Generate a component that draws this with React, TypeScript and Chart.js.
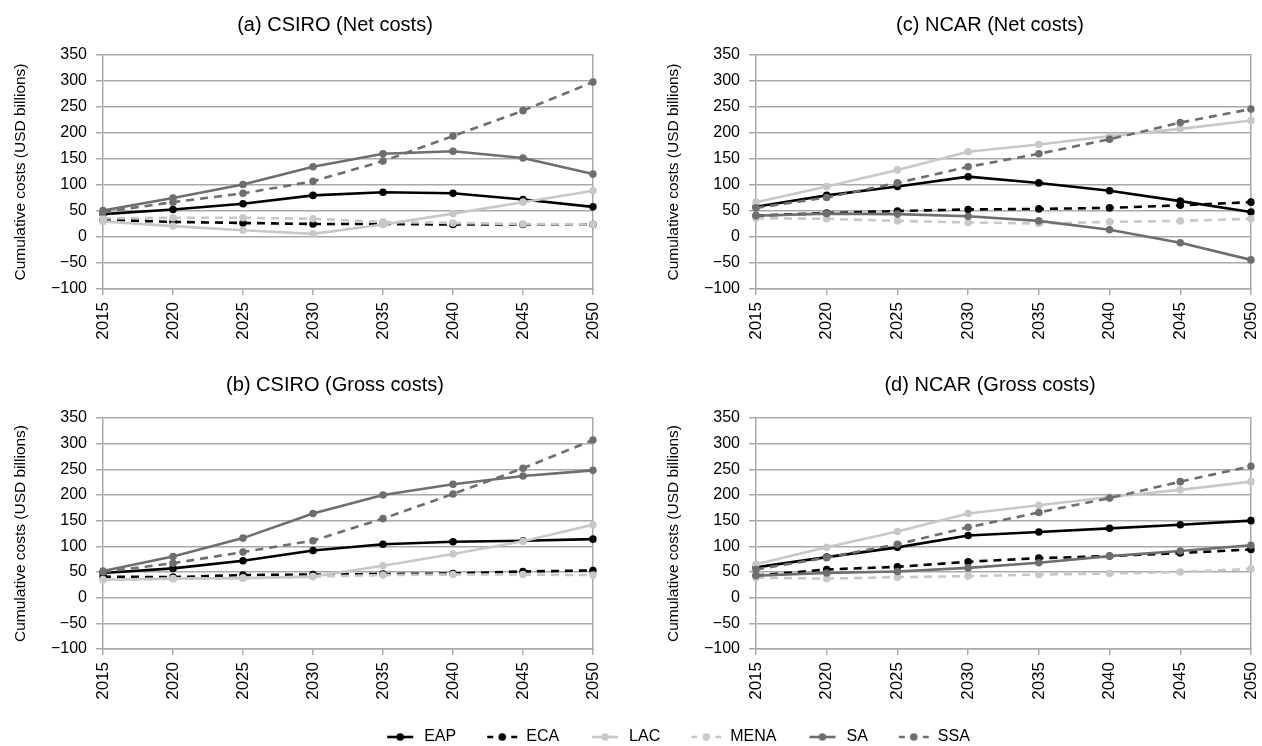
import React, { useEffect, useRef } from 'react';
import { Chart, registerables } from 'chart.js';

Chart.register(...registerables);

// ---------- data ----------
const years = ['2015', '2020', '2025', '2030', '2035', '2040', '2045', '2050'];
const seriesNames = ['EAP', 'ECA', 'LAC', 'MENA', 'SA', 'SSA'];
const yTicks = [-100, -50, 0, 50, 100, 150, 200, 250, 300, 350];

// (a) CSIRO (Net costs)
const aEAP = [44, 53, 64, 80, 86, 84, 72, 58];
const aECA = [33, 29, 27, 25, 25, 24, 24, 24];
const aLAC = [30, 21, 13, 6, 24, 45, 67, 89];
const aMENA = [36, 37, 37, 35, 29, 27, 25, 24];
const aSA = [51, 75, 101, 135, 160, 165, 152, 121];
const aSSA = [48, 67, 84, 107, 146, 194, 243, 298];

// (b) CSIRO (Gross costs)
const bEAP = [48, 57, 72, 92, 104, 109, 111, 114];
const bECA = [41, 40, 44, 45, 46, 47, 51, 53];
const bLAC = [35, 37, 38, 41, 62, 85, 110, 142];
const bMENA = [35, 37, 38, 41, 44, 45, 45, 44];
const bSA = [52, 80, 116, 164, 200, 221, 237, 248];
const bSSA = [50, 67, 89, 111, 154, 202, 252, 307];

// (c) NCAR (Net costs)
const cEAP = [58, 80, 97, 116, 104, 89, 69, 48];
const cECA = [41, 46, 50, 53, 54, 56, 61, 67];
const cLAC = [67, 97, 129, 164, 178, 194, 208, 224];
const cMENA = [36, 35, 31, 28, 26, 29, 31, 35];
const cSA = [41, 45, 44, 40, 31, 14, -11, -44];
const cSSA = [56, 76, 104, 135, 160, 188, 220, 246];

// (d) NCAR (Gross costs)
const dEAP = [59, 79, 98, 121, 128, 135, 142, 150];
const dECA = [43, 55, 60, 70, 77, 81, 87, 94];
const dLAC = [65, 98, 129, 164, 180, 196, 210, 226];
const dMENA = [39, 37, 40, 42, 45, 47, 50, 56];
const dSA = [43, 48, 51, 58, 68, 81, 91, 102];
const dSSA = [55, 78, 104, 137, 166, 194, 226, 256];

// ---------- styles ----------
const COLORS = ['#000000', '#000000', '#c8c8c8', '#c8c8c8', '#6e6e6e', '#6e6e6e'];
const DASHED = [false, true, false, true, false, true];
const GRID = '#a9a9a9';
const FONT = "'Liberation Sans Narrow', 'Arial Narrow', 'Liberation Sans', Arial, sans-serif";
const TITLE_FONT = "'Liberation Sans', Arial, sans-serif";

type PanelProps = {
  title: string;
  series: number[][];
  left: number;
  top: number;
  width: number;
  rightPad: number;
  titleBottom: number;
};

function Panel({ title, series, left, top, width, rightPad, titleBottom }: PanelProps) {
  const ref = useRef<HTMLCanvasElement | null>(null);
  const height = 336;
  useEffect(() => {
    if (!ref.current) return;
    const tickFont = { family: FONT, size: 16 };
    const chart = new Chart(ref.current, {
      type: 'line',
      data: {
        labels: years,
        datasets: seriesNames.map((name, i) => ({
          label: name,
          data: series[i],
          borderColor: COLORS[i],
          backgroundColor: COLORS[i],
          borderWidth: 2.6,
          borderDash: DASHED[i] ? [8, 6] : [],
          pointRadius: 3.8,
          pointHoverRadius: 3.8,
          pointBorderWidth: 0,
          pointBackgroundColor: COLORS[i],
          tension: 0,
          order: 5 - i,
          yAxisID: 'y',
        })),
      },
      options: {
        animation: false,
        responsive: false,
        maintainAspectRatio: false,
        events: [],
        layout: { padding: 0 },
        plugins: {
          legend: { display: false },
          tooltip: { enabled: false },
          title: {
            display: true,
            text: title,
            color: '#000',
            font: { family: TITLE_FONT, size: 20, weight: 'normal' },
            padding: { top: 5, bottom: titleBottom },
          },
        },
        scales: {
          x: {
            type: 'category',
            offset: false,
            grid: { drawOnChartArea: false, drawTicks: true, tickLength: 6, color: GRID, lineWidth: 1.5 },
            border: { display: true, color: GRID, width: 1.5 },
            ticks: { autoSkip: false, maxRotation: 90, minRotation: 90, padding: 7, color: '#000', font: { family: FONT, size: 17 } },
            afterFit: (s: any) => { s.height = 55; },
          },
          y: {
            type: 'linear',
            position: 'left',
            min: -100,
            max: 350,
            afterBuildTicks: (s: any) => { s.ticks = yTicks.map((v) => ({ value: v })); },
            ticks: {
              color: '#000',
              font: tickFont,
              padding: 9,
              callback: (v: any) => String(v).replace('-', '\u2212'),
            },
            grid: { color: GRID, lineWidth: 1.5, tickLength: 7 },
            border: { display: true, color: GRID, width: 1.5 },
            title: {
              display: true,
              text: 'Cumulative costs (USD billions)',
              color: '#000',
              font: { family: FONT, size: 15.5 },
              padding: { top: 3, bottom: 0 },
            },
            afterFit: (s: any) => { s.width = 95; },
          },
          y2: {
            type: 'linear',
            position: 'right',
            display: true,
            grid: { display: false, drawOnChartArea: false, drawTicks: false },
            ticks: { display: false },
            border: { display: true, color: GRID, width: 1.5 },
            afterFit: (s: any) => { s.width = rightPad; },
          },
        },
      } as any,
    });
    return () => chart.destroy();
  }, []);
  return (
    <canvas
      ref={ref}
      width={width}
      height={height}
      style={{ position: 'absolute', left, top, width, height }}
    />
  );
}

function makeSymbol(i: number): HTMLCanvasElement {
  const c = document.createElement('canvas');
  c.width = 32;
  c.height = 12;
  const ctx = c.getContext('2d')!;
  ctx.strokeStyle = COLORS[i];
  ctx.fillStyle = COLORS[i];
  ctx.lineWidth = 2.6;
  ctx.beginPath();
  if (DASHED[i]) {
    ctx.moveTo(1, 6);
    ctx.lineTo(7, 6);
    ctx.moveTo(25, 6);
    ctx.lineTo(31, 6);
  } else {
    ctx.moveTo(3, 6);
    ctx.lineTo(29, 6);
  }
  ctx.stroke();
  ctx.beginPath();
  ctx.arc(16, 6, 3.8, 0, Math.PI * 2);
  ctx.fill();
  return c;
}

function Legend({ left, top, width }: { left: number; top: number; width: number }) {
  const ref = useRef<HTMLCanvasElement | null>(null);
  const height = 170;
  useEffect(() => {
    if (!ref.current) return;
    const symbols = seriesNames.map((_, i) => makeSymbol(i));
    const chart = new Chart(ref.current, {
      type: 'line',
      data: {
        labels: [],
        datasets: seriesNames.map((name, i) => ({
          label: name,
          data: [],
          borderColor: COLORS[i],
          backgroundColor: COLORS[i],
        })),
      },
      options: {
        animation: false,
        responsive: false,
        maintainAspectRatio: false,
        events: [],
        layout: { padding: 0 },
        scales: { x: { display: false }, y: { display: false } },
        plugins: {
          tooltip: { enabled: false },
          title: { display: false },
          legend: {
            display: true,
            position: 'top',
            labels: {
              usePointStyle: true,
              pointStyleWidth: 32,
              boxHeight: 12,
              padding: 30,
              color: '#000',
              font: { family: FONT, size: 16 },
              generateLabels: () =>
                seriesNames.map((name, i) => ({
                  text: name,
                  pointStyle: symbols[i],
                  fillStyle: COLORS[i],
                  strokeStyle: COLORS[i],
                  lineWidth: 0,
                  hidden: false,
                  datasetIndex: i,
                  fontColor: '#000',
                })),
            },
          },
        },
      } as any,
    });
    return () => chart.destroy();
  }, []);
  return (
    <canvas
      ref={ref}
      width={width}
      height={height}
      style={{ position: 'absolute', left, top, width, height }}
    />
  );
}

export default function App() {
  return (
    <div style={{ position: 'fixed', left: 0, top: 0, width: 1262, height: 746, overflow: 'hidden', background: '#fff' }}>
      <Panel title="(a) CSIRO (Net costs)" series={[aEAP, aECA, aLAC, aMENA, aSA, aSSA]} left={8} top={8} width={654} rightPad={69} titleBottom={18} />
      <Panel title="(c) NCAR (Net costs)" series={[cEAP, cECA, cLAC, cMENA, cSA, cSSA]} left={661} top={8} width={658} rightPad={68} titleBottom={18} />
      <Panel title="(b) CSIRO (Gross costs)" series={[bEAP, bECA, bLAC, bMENA, bSA, bSSA]} left={8} top={368} width={654} rightPad={69} titleBottom={21} />
      <Panel title="(d) NCAR (Gross costs)" series={[dEAP, dECA, dLAC, dMENA, dSA, dSSA]} left={661} top={368} width={658} rightPad={68} titleBottom={21} />
      <Legend left={103} top={699} width={1148} />
    </div>
  );
}
